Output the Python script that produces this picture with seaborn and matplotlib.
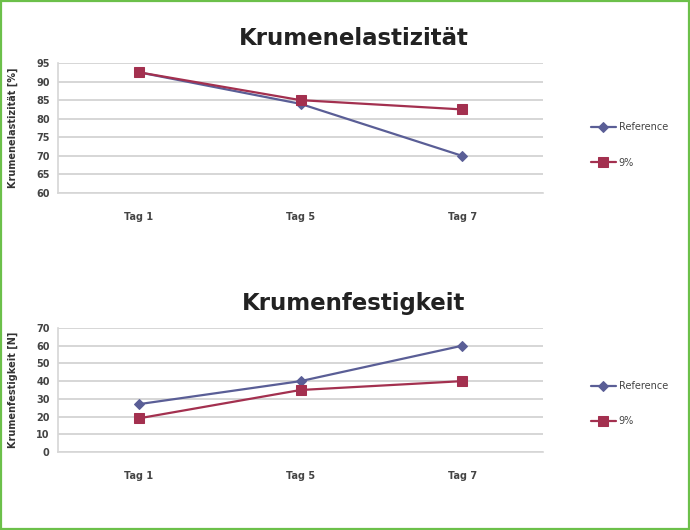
import matplotlib
matplotlib.use("Agg")
import matplotlib.pyplot as plt
import seaborn as sns
import pandas as pd

days = ["Tag 1", "Tag 5", "Tag 7"]
series_names = ["Reference", "9%"]

elastizitaet_reference = [92.5, 84.0, 70.0]
elastizitaet_9 = [92.5, 85.0, 82.5]

festigkeit_reference = [27, 40, 60]
festigkeit_9 = [19, 35, 40]

elast_ticks = [60, 65, 70, 75, 80, 85, 90, 95]
fest_ticks = [0, 10, 20, 30, 40, 50, 60, 70]

palette = {"Reference": "#5a5e96", "9%": "#a3304f"}
markers = {"Reference": "D", "9%": "s"}
sizes = {"Reference": 5, "9%": 7}


def long_frame(ref, nine):
    rows = []
    for name, vals in zip(series_names, [ref, nine]):
        for d, v in zip(days, vals):
            rows.append({"Tag": d, "Wert": v, "Serie": name})
    return pd.DataFrame(rows)


sns.set_style("white")
plt.rcParams["font.family"] = ["DejaVu Sans"]

fig = plt.figure(figsize=(6.9, 5.3), dpi=100)
fig.patch.set_facecolor("white")

# thin green frame around the whole figure
frame = plt.Rectangle((0.002, 0.002), 0.996, 0.996, transform=fig.transFigure,
                      fill=False, edgecolor="#6cc04a", linewidth=1.6)
fig.add_artist(frame)


def draw_panel(rect, df, ticks, title, ylabel, legend_y):
    ax = fig.add_axes(rect)
    for name in series_names:
        sub = df[df["Serie"] == name]
        sns.lineplot(data=sub, x="Tag", y="Wert", ax=ax, color=palette[name],
                     marker=markers[name], markersize=sizes[name],
                     markeredgecolor=palette[name], linewidth=1.6,
                     label=name, sort=False)
    ax.set_xlim(-0.5, 2.5)
    ax.set_ylim(ticks[0], ticks[-1])
    ax.set_yticks(ticks)
    ax.set_xticks(range(len(days)))
    ax.set_xticklabels(days)
    ax.yaxis.grid(True, color="#d6d6d6", linewidth=1.4)
    ax.set_axisbelow(True)
    for side in ["top", "right"]:
        ax.spines[side].set_visible(False)
    ax.spines["left"].set_color("#d6d6d6")
    ax.spines["bottom"].set_color("#d6d6d6")
    ax.spines["left"].set_linewidth(1.2)
    ax.spines["bottom"].set_linewidth(1.2)
    ax.tick_params(axis="both", length=0, labelsize=7, colors="#444444", pad=6)
    ax.tick_params(axis="x", pad=14)
    for lab in ax.get_xticklabels() + ax.get_yticklabels():
        lab.set_fontweight("bold")
    ax.set_xlabel("")
    ax.set_ylabel(ylabel, fontsize=7, fontweight="bold", color="#333333")
    ax.yaxis.set_label_coords(-0.082, 0.5)
    ax.set_title(title, fontsize=16.5, fontweight="bold", color="#222222",
                 x=0.61, pad=13)
    ax.legend(loc="center left", bbox_to_anchor=(1.08, legend_y), frameon=False,
              fontsize=7, labelspacing=2.6, handlelength=2.6, handletextpad=0.3,
              labelcolor="#444444")
    return ax


df_top = long_frame(elastizitaet_reference, elastizitaet_9)
df_bot = long_frame(festigkeit_reference, festigkeit_9)

draw_panel([58 / 690, 1 - 193 / 530, 485 / 690, 130 / 530], df_top, elast_ticks,
           "Krumenelastizität", "Krumenelastizität [%]", 0.37)
draw_panel([58 / 690, 1 - 452 / 530, 485 / 690, 124 / 530], df_bot, fest_ticks,
           "Krumenfestigkeit", "Krumenfestigkeit [N]", 0.39)

fig.savefig("out.png", dpi=100, facecolor="white")
